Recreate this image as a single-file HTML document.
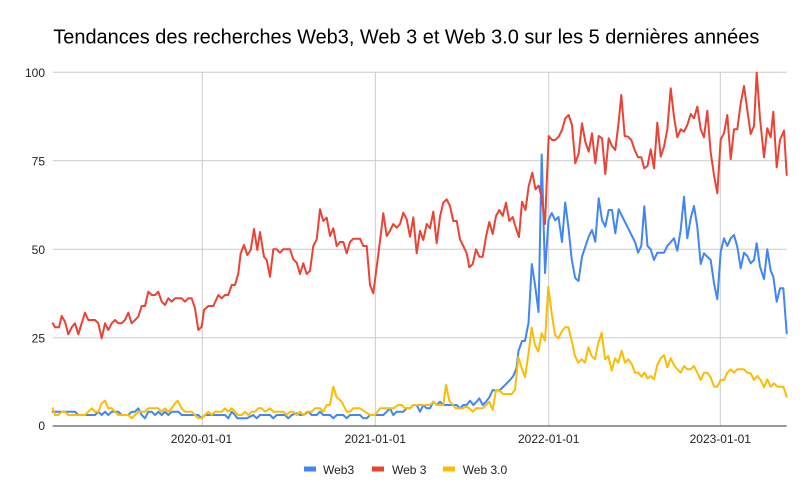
<!DOCTYPE html>
<html><head><meta charset="utf-8"><style>
html,body{margin:0;padding:0;background:#fff;}
svg{display:block;}
text{font-family:"Liberation Sans",Arial,sans-serif;}
</style></head><body>
<svg width="812" height="502" viewBox="0 0 812 502" xmlns="http://www.w3.org/2000/svg">
<rect width="812" height="502" fill="#fff"/>
<text x="53.3" y="43.3" font-size="20" fill="#000" textLength="706" lengthAdjust="spacingAndGlyphs">Tendances des recherches Web3, Web 3 et Web 3.0 sur les 5 dernières années</text>
<g stroke="#cccccc" stroke-width="1" fill="none">
<line x1="52.7" y1="72.3" x2="786.7" y2="72.3"/>
<line x1="52.7" y1="160.8" x2="786.7" y2="160.8"/>
<line x1="52.7" y1="249.3" x2="786.7" y2="249.3"/>
<line x1="52.7" y1="337.8" x2="786.7" y2="337.8"/>
<line x1="202.3" y1="72.3" x2="202.3" y2="426"/>
<line x1="375.3" y1="72.3" x2="375.3" y2="426"/>
<line x1="548.7" y1="72.3" x2="548.7" y2="426"/>
<line x1="720.3" y1="72.3" x2="720.3" y2="426"/>
</g>
<g font-size="12" fill="#222" text-anchor="end">
<text x="45" y="76.8">100</text>
<text x="45" y="165.3">75</text>
<text x="45" y="253.8">50</text>
<text x="45" y="342.3">25</text>
<text x="45" y="430">0</text>
</g>
<g font-size="12" fill="#222" text-anchor="middle">
<text x="201.5" y="443">2020-01-01</text>
<text x="375.3" y="443">2021-01-01</text>
<text x="548.7" y="443">2022-01-01</text>
<text x="720.3" y="443">2023-01-01</text>
</g>
<g fill="none" stroke-width="2" stroke-linejoin="round" stroke-linecap="round">
<polyline stroke="#4285F4" points="52.7,411.7 75,411.7 78.3,415 95,415 98.3,411.7 101.7,415 105,411.7 108.3,415 111.7,411.7 118.3,411.7 121.7,415 128.3,415 131.7,411.7 135,411.7 138.3,408.3 141.7,415 145,418.3 148.3,411.7 151.7,411.7 155,415 158.3,411.7 161.7,415 165,411.7 168.3,415 171.7,411.7 178.3,411.7 181.7,415 198.3,415 201.7,418.3 205,415 225,415 228.3,418.3 231.7,411.7 235,415 237.3,418.3 246.7,418.3 250,416.7 253.3,415 256.7,418.3 260,415 270,415 273.3,418.3 276.7,415 285,415 288.3,418.3 291.7,415 296.7,413.3 300,415 303.3,415 308.3,411.7 311.7,415 316.7,415 320,411.7 323.3,415 330,415 333.3,418.3 336.7,415 343.3,415 346.7,418.3 350,415 360,415 363.3,418.3 366.7,418.3 370,415 383.3,415 386.7,411.7 390,408.3 393.3,415 396.7,411.7 403.3,411.7 406.7,408.3 410,408.3 413.3,405 416.7,405 420,411.7 423.3,405 426.7,408.3 430,408.3 433.3,401.7 436.7,405 440,401.7 443.3,405 456.7,405 460,408.3 463.3,405 466.7,405 470,400.7 473.3,405 476.7,401.7 479.3,398.3 482.7,405 486,401.7 489.3,397.3 492.7,390 496,390.7 500,390 503.3,386.7 506.7,383.3 510,380 513.3,376 516.5,368 518.5,351 522,341 525,341 528.5,323 531.8,264 535.2,286 538.5,312 541.7,154.5 545,273 548.5,220 551.8,213 555.2,220.3 558.5,217 562,242 565.2,202.5 568.5,228 571.8,260 575.2,278 578.5,281 582,256.7 585.3,246.7 588.7,236.7 592,230 595.3,241.7 598.7,198.3 602,220 605.3,226.7 608.7,210 612,210 615.3,233.3 618.7,209.3 622,216 625.3,222.7 628.7,229.3 632,236 635.3,242.7 638,252.7 641.3,246 644.3,206.3 647.5,246 650.7,249.3 654,260 657.3,252.7 664,252.7 667.3,246 674,238.3 677.3,250.7 680.7,230 684,196.7 687.3,238.3 690.7,218.3 694,206 697.3,226.7 700.7,264 704,253.3 710.7,260 714,283.3 717.3,299.3 720.7,251.7 724,238.3 727.3,246 730.7,238.3 734,235 737.3,246.7 740.7,268.3 744,252.7 747.3,256 750.7,263.3 754,260 756.7,243.3 760,266.7 764,279 767.3,249.3 770.7,270.7 773.3,276.7 776.7,301.7 780,288.3 783.3,288.3 786.7,333.3"/>
<polyline stroke="#EA4335" points="52.7,323.3 55,327.3 59,327.3 61.7,316 65,321.7 68.3,334.3 71.7,327.3 75,323.3 78.3,334.3 81.7,323.3 85,312.7 88.3,320 95,320 98.3,323.3 101.7,338.3 105,323.3 108.3,330 111.7,323.3 115,320 118.3,323.3 121.7,323.3 125,320 128.3,312.7 131.7,323.3 138.3,316.7 141.7,306 145,306 148.3,291.7 151.7,295 155,295 158.3,291.7 161.7,301.7 165,305 168.3,298.3 171.7,301.7 175,298.3 181.7,298.3 185,301.7 188.3,298.3 191.7,298.3 195,308.3 198.3,330 201.7,326.7 204,310 208.3,306 213.3,306 218.3,295 221.7,298.3 225,295 228.3,295 231.7,285 235,285 238.3,273.3 240.7,253.3 244,245 247.3,255 250.7,250 254,229 257.3,250 260,232 264,256.7 266.7,260 270,276.7 273.3,249.3 276.7,249.3 280,252.7 283.3,249.3 290,249.3 293.3,259.3 296.7,262.7 300,274 303.3,263.3 306.7,274 310,270.7 313.3,246 316.7,239.3 320,209.3 323.3,221 326.7,217.7 330,236 333.3,228.3 336.7,246 340,242 343.3,242 346.7,253.3 350,242 353.3,238.7 360,238.7 363.3,246 366.7,246 370,285 373.3,293.3 376.7,266.7 380,241 383.3,213.3 386.7,236 390,230.7 393.3,224 396.7,227.7 400,224 403.3,212.7 406.7,219.3 410,236.7 413.3,217.3 416.7,253.3 420,230.7 423.3,240 426.7,224 430,228.3 433.3,211.7 436.7,243.3 440,216.7 443.3,202.7 446.7,199.3 450,206 453.3,221 456.7,221 460,239.3 463.3,246 466.7,253.3 469.3,267.3 472.7,264 476,249.3 479.3,256.7 482.7,256.7 486,236.7 489.3,222 492.7,234 496,216 499.3,210 502.7,216 506,202.7 509.3,221 512.7,217 516,228.5 519,237 522,201.7 525.5,210 528.7,186 532.3,172.7 535.5,189.3 538.7,185.5 541.8,198 545,224 548.7,136 552,140 555.3,140 558.7,136.7 562,130 565.3,118.3 568.7,115 572,125 575.3,163.3 578.7,153.3 582,123.3 585.3,141.7 588.7,151.7 592,133.3 595.3,163.3 598.7,136 602,138.3 605.3,174 608.7,138.3 612,146 615.3,150 618.7,121.7 621.3,95 624.7,136 628,136.7 631.3,140 634.7,150 638,157.3 641.3,157.3 644.3,168.3 647.5,166 650.7,149.3 654,168.3 657.3,122.7 660.7,156.7 664,146.7 667.3,129.3 670.7,88.3 674,116.7 677.3,137.3 680.7,129.3 684,131.7 687.3,125 690.7,114 694,118.3 697.3,106.7 700.7,129.3 704,137.3 707.3,110.7 710.7,152.7 714,175 717.3,193.3 720.7,139.3 724,133.3 727.3,115 730.7,159.3 734,129.3 737.3,129.3 740.7,103.3 744,86 747.3,110 750.7,134 754,126 756.7,72.7 760,118.3 764,157.3 767.3,128.3 770.7,137.3 773.3,111.7 776.7,167.3 780,140 784,130.7 786.7,175"/>
<polyline stroke="#FBBC04" points="52.7,408.3 55,415 58.3,415 61.7,411.7 65,411.7 68.3,415 85,415 88.3,411.7 91.7,408.3 95,411.7 98.3,411.7 101.7,403.3 105,400.7 108.3,408.3 111.7,408.3 115,411.7 118.3,415 128.3,415 131.7,418.3 135,415 138.3,411.7 145,411.7 148.3,408.3 158.3,408.3 161.7,411.7 165,408.3 168.3,411.7 171.7,408.3 175,403.3 177.7,400.7 181.7,408.3 185,411.7 191.7,411.7 195,415 198.3,418.3 201.7,418.3 205,415 208.3,411.7 211.7,415 215,411.7 221.7,411.7 225,408.3 228.3,411.7 231.7,408.3 235,411.7 238.3,415 241.7,415 245,411.7 248.3,415 251.7,411.7 255,411.7 258.3,408.3 261.7,408.3 265,411.7 270,408.3 273.3,411.7 283.3,411.7 286.7,415 290,411.7 293.3,411.7 296.7,415 300,411.7 303.3,415 306.7,411.7 311.7,411.7 315,408.3 320,408.3 323.3,411.7 326.7,405 330,405 333.3,386.7 336.7,397.3 341.7,401.7 346.7,411.7 350,411.7 353.3,408.3 360,408.3 365,411.7 370,415 375,415 380,408.3 393.3,408.3 398.3,405 401.7,405 405,408.3 410,408.3 413.3,405 430,405 433.3,401.7 436.7,405 443.3,405 446,385 449.3,400.7 452.7,405 456,408.3 462.7,408.3 466,406.7 469.3,408.3 472.7,411.7 476,408.3 482.7,408.3 486,405 489.3,401.7 492.7,410 496,390 500,391 503,394 511.7,394 515,390 518.3,357 521.7,368 525,377 528.3,355 531.7,327.5 535,345 538.3,351.5 541.7,333.3 545,340.7 548.3,286.7 551.7,313.3 555,335 558.3,338.3 561.7,331.7 565,327.3 568.3,327.3 571.7,340.7 575,356 578.3,362.7 581.7,359.3 585,362.7 588.3,347.3 591.7,356 595,359.3 598.3,342.7 601.7,332.7 605,359.3 608.3,356 611.7,370.7 615,358.3 618.3,362.7 621.7,350.7 625,362.7 628.3,359.3 631.7,364 635,372.7 638.3,372.7 641.7,376.7 644.5,372.7 647.5,378.3 650.7,376 654,379.3 657.3,365 660.7,358.3 664,355 667.3,367.3 670.7,358.3 674,365 677.3,369.3 680.7,372.7 684,366 687.3,369.3 690.7,369.3 694,366 697.3,372.7 700.7,380 704,372.7 707.3,372.7 710.7,377.3 714,386.7 717.3,386.7 720.7,380 724,380 727.3,372.7 730.7,369.3 734,372.7 737.3,369.3 744,369.3 747.3,372.7 750.7,373.3 754,380 757.3,376 760.7,380 764,387.3 767.3,379.3 770.7,386.7 774,383.3 777.3,386.7 783.3,386.7 786.7,396.7"/>
</g>
<line x1="52.7" y1="426" x2="786.7" y2="426" stroke="#333" stroke-width="1"/>
<g font-size="12" fill="#222">
<rect x="304" y="466.5" width="12" height="5" fill="#4285F4"/>
<text x="323" y="474">Web3</text>
<rect x="372" y="466.5" width="12" height="5" fill="#EA4335"/>
<text x="392" y="474">Web 3</text>
<rect x="443" y="466.5" width="12" height="5" fill="#FBBC04"/>
<text x="462.7" y="474">Web 3.0</text>
</g>
</svg>
</body></html>
